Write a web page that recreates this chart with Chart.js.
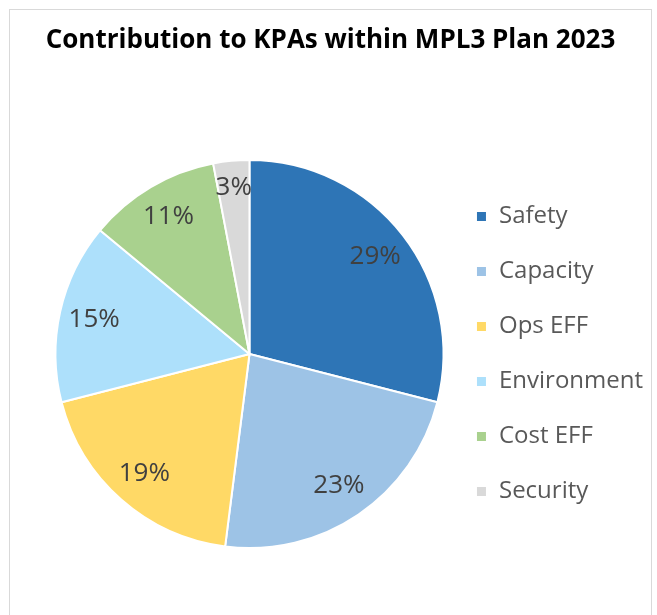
<!DOCTYPE html>
<html>
<head>
<meta charset="utf-8">
<script src="https://cdn.jsdelivr.net/npm/chart.js@4"></script>
<style>
  html, body { margin: 0; padding: 0; background: #fff; }
  #frame {
    position: absolute; left: 9px; top: 9px; width: 641px; height: 620px;
    border: 1px solid #d9d9d9; border-bottom: none;
  }
  #wrap { position: absolute; left: 0; top: 0; width: 657px; height: 615px; }
</style>
</head>
<body>
<div id="frame"></div>
<div id="wrap"><canvas id="kpaChart"></canvas></div>
<script>
// KPA contribution data
const categories = ['Safety', 'Capacity', 'Ops EFF', 'Environment', 'Cost EFF', 'Security'];
const shares = [29, 23, 19, 15, 11, 3];
const sliceColors = ['#2e75b6', '#9dc3e6', '#ffd966', '#ade0fb', '#a9d18e', '#d9d9d9'];

const FONT = "'Open Sans', sans-serif";

// draw the percent labels inside each slice
const sliceLabels = {
  id: 'sliceLabels',
  afterDatasetsDraw(chart) {
    const ctx = chart.ctx;
    const meta = chart.getDatasetMeta(0);
    ctx.save();
    ctx.font = '26px ' + FONT;
    ctx.fillStyle = '#404040';
    ctx.textAlign = 'center';
    ctx.textBaseline = 'middle';
    meta.data.forEach((arc, i) => {
      const p = arc.getProps(['x', 'y', 'startAngle', 'endAngle', 'outerRadius'], true);
      const mid = (p.startAngle + p.endAngle) / 2;
      const r = p.outerRadius * (shares[i] < 5 ? 0.86 : 0.82);
      ctx.fillText(shares[i] + '%', p.x + Math.cos(mid) * r, p.y + Math.sin(mid) * r);
    });
    ctx.restore();
  }
};

// center the title over the whole frame, not just the padded area
const titleSpan = {
  id: 'titleSpan',
  afterLayout(chart) {
    const t = chart.titleBlock;
    if (t) {
      t.left = 9;
      t.right = 652;
      t.width = 643;
    }
  }
};

new Chart(document.getElementById('kpaChart'), {
  type: 'pie',
  data: {
    labels: categories,
    datasets: [{
      data: shares,
      backgroundColor: sliceColors,
      borderColor: '#ffffff',
      borderWidth: 2
    }]
  },
  options: {
    responsive: true,
    maintainAspectRatio: false,
    animation: false,
    layout: {
      padding: { left: 54, right: 4, top: 0, bottom: 66 }
    },
    plugins: {
      title: {
        display: true,
        text: 'Contribution to KPAs within MPL3 Plan 2023',
        color: '#000000',
        font: { family: FONT, size: 26, weight: 'bold' },
        padding: { top: 25, bottom: 102.8 }
      },
      legend: {
        position: 'right',
        fullSize: false,
        labels: {
          boxWidth: 11,
          boxHeight: 11,
          padding: 31,
          color: '#595959',
          font: { family: FONT, size: 24 }
        }
      },
      tooltip: { enabled: false }
    }
  },
  plugins: [sliceLabels, titleSpan]
});
</script>
</body>
</html>
